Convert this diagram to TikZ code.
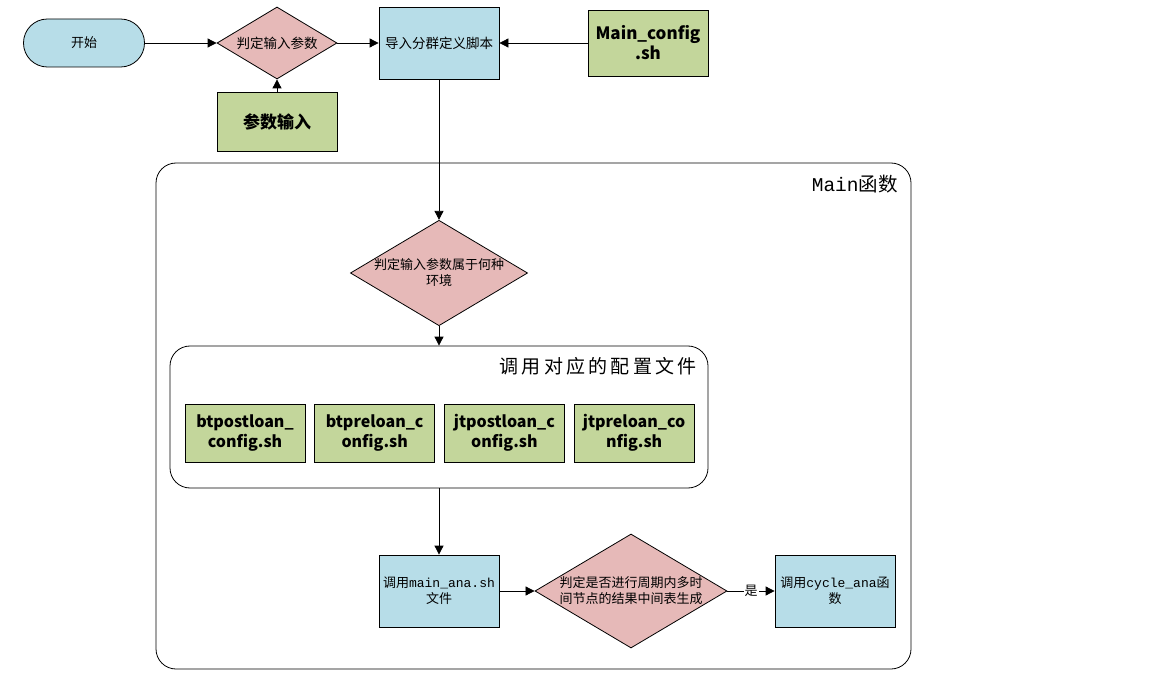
\documentclass[tikz,border=0pt]{standalone}
\usepackage{fontspec}
\setmainfont{Noto Sans CJK SC}
\newfontfamily\codefont{Liberation Mono}
\newfontfamily\titlefont[LetterSpace=17]{Noto Sans CJK SC}
\usetikzlibrary{arrows.meta,shapes.geometric}

\definecolor{cblue}{HTML}{B7DDE8}
\definecolor{cpink}{HTML}{E6B9B8}
\definecolor{cgreen}{HTML}{C3D69B}

\begin{document}
\begin{tikzpicture}[x=1pt,y=-1pt,line width=0.8pt,>={Triangle[length=9pt,width=9pt]},
  base/.style={draw,inner sep=0pt,align=center,font=\fontsize{13}{16}\selectfont},
  startstop/.style={base,fill=cblue,rounded corners=23.9pt,minimum width=121pt,minimum height=48pt},
  process/.style={base,fill=cblue,minimum width=120pt,minimum height=72pt},
  decision/.style={base,diamond,fill=cpink,font=\fontsize{13}{16}\selectfont},
  inputbox/.style={base,fill=cgreen,minimum width=120pt,minimum height=59pt,font=\fontsize{17}{20}\selectfont\bfseries},
  cfgbox/.style={base,fill=cgreen,minimum width=120pt,minimum height=58pt,font=\fontsize{16}{20}\selectfont\bfseries},
  group/.style={draw,rounded corners=20pt,inner sep=0pt},
  grouplabel/.style={inner sep=0pt,font=\fontsize{19.5}{20}\selectfont}]
  \useasboundingbox (0,0) rectangle (1152,687);

  % outer groups
  \node[group,minimum width=755pt,minimum height=506pt] (mainfn) at (533.5,416) {};
  \node[grouplabel,anchor=east] (mainlbl) at (898,184) {{\codefont Main}函数};
  \node[group,minimum width=538pt,minimum height=142pt] (cfg) at (439,417) {};
  \node[grouplabel,anchor=east,font=\fontsize{19}{20}\titlefont] (cfglbl) at (697,366) {调用对应的配置文件};

  % top row
  \node[startstop] (start) at (84,43) {开始};
  \node[decision,aspect=1.667,minimum width=120pt,minimum height=72pt,font=\fontsize{13.5}{16}\selectfont] (chk) at (277,43) {判定输入参数};
  \node[inputbox] (args) at (277,121.5) {参数输入};
  \node[process,font=\fontsize{13.5}{16}\selectfont] (imp) at (439,43) {导入分群定义脚本};
  \node[inputbox,minimum height=66pt] (mcfg) at (648,43) {Main\_config\\.sh};

  \node[decision,aspect=1.68,minimum width=175pt,minimum height=104pt] (env) at (439,273) {判定输入参数属于何种\\环境};

  % config files
  \foreach \txt [count=\i] in {{btpostloan\_\\config.sh},{btpreloan\_c\\onfig.sh},
      {jtpostloan\_c\\onfig.sh},{jtpreloan\_co\\nfig.sh}}
    \node[cfgbox] (f\i) at (115.3+129.7*\i,433) {\txt};

  % bottom row
  \node[process] (ana) at (439,591) {调用{\codefont main\_ana.sh}\\文件};
  \node[decision,aspect=1.684,minimum width=192pt,minimum height=114pt] (gen) at (631,591) {判定是否进行周期内多时\\间节点的结果中间表生成};
  \node[process] (cyc) at (835,591) {调用{\codefont cycle\_ana}函\\数};

  \path[->]
  (start) edge (chk)
  (chk) edge (imp)
  (mcfg) edge (imp)
  (args) edge (chk)
  (imp) edge (env)
  (env) edge (cfg)
  (cfg) edge (ana)
  (ana) edge (gen)
  (gen) edge node[fill=white,inner sep=1pt,font=\fontsize{13}{16}\selectfont] {是} (cyc)
  ;
\end{tikzpicture}
\end{document}
